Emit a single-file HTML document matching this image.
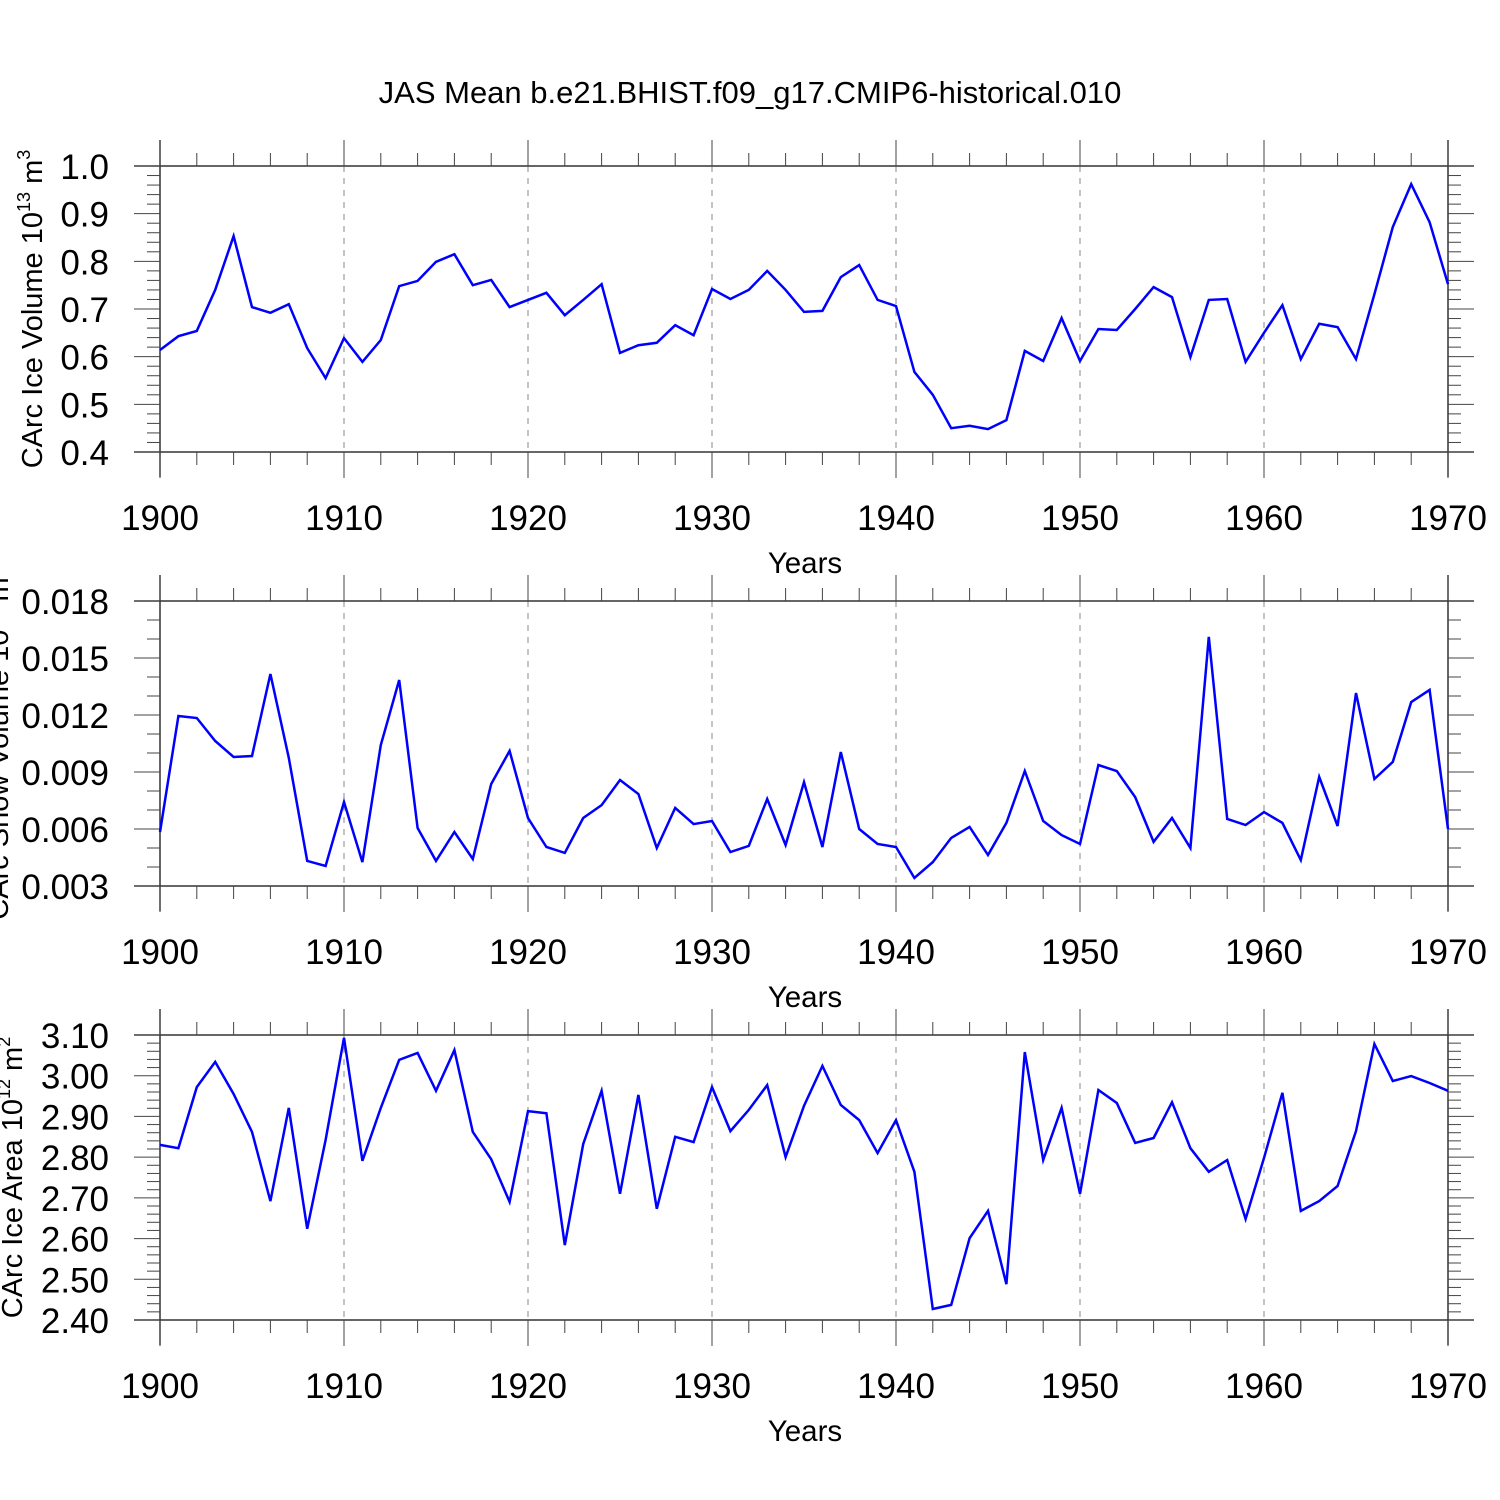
<!DOCTYPE html>
<html><head><meta charset="utf-8"><style>
html,body{margin:0;padding:0;background:#fff;}
svg{display:block;font-family:"Liberation Sans",sans-serif;}
</style></head><body>
<svg id="chart" width="1500" height="1500" viewBox="0 0 1500 1500" xmlns="http://www.w3.org/2000/svg">
<rect width="1500" height="1500" fill="#fff"/>
<text x="750" y="103" font-size="31" text-anchor="middle">JAS Mean b.e21.BHIST.f09_g17.CMIP6-historical.010</text>
</svg>
<script>
const years = [];
for (let y = 1900; y <= 1970; y++) years.push(y);
const iceVolume = [0.614,0.643,0.654,0.740,0.853,0.704,0.692,0.710,0.618,0.555,0.639,0.589,0.635,0.748,0.759,0.799,0.815,0.750,0.761,0.704,0.719,0.734,0.687,0.719,0.752,0.608,0.624,0.629,0.666,0.645,0.742,0.721,0.740,0.780,0.740,0.694,0.696,0.767,0.792,0.719,0.706,0.568,0.520,0.450,0.455,0.448,0.467,0.612,0.591,0.681,0.591,0.658,0.656,0.700,0.746,0.725,0.599,0.719,0.721,0.589,0.650,0.708,0.595,0.669,0.662,0.595,0.731,0.872,0.962,0.882,0.752];
const snowVolume = [0.00584,0.01195,0.01184,0.01063,0.00979,0.00984,0.01416,0.00974,0.00432,0.00405,0.00742,0.00426,0.01042,0.01384,0.00605,0.00432,0.00584,0.00442,0.00837,0.01011,0.00658,0.00505,0.00474,0.00658,0.00726,0.00858,0.00784,0.00500,0.00711,0.00626,0.00642,0.00479,0.00511,0.00758,0.00516,0.00847,0.00505,0.01005,0.00600,0.00521,0.00505,0.00342,0.00426,0.00553,0.00611,0.00463,0.00632,0.00905,0.00642,0.00568,0.00521,0.00937,0.00905,0.00768,0.00532,0.00658,0.00500,0.01611,0.00653,0.00621,0.00689,0.00632,0.00437,0.00874,0.00616,0.01316,0.00863,0.00953,0.01268,0.01332,0.00600];
const iceArea = [2.830,2.822,2.972,3.034,2.955,2.862,2.692,2.921,2.624,2.842,3.093,2.791,2.921,3.039,3.056,2.963,3.063,2.862,2.795,2.690,2.913,2.908,2.584,2.832,2.963,2.710,2.953,2.673,2.850,2.837,2.972,2.864,2.916,2.977,2.800,2.926,3.024,2.928,2.891,2.810,2.891,2.764,2.427,2.437,2.601,2.668,2.488,3.058,2.793,2.921,2.710,2.965,2.933,2.835,2.847,2.935,2.822,2.764,2.793,2.648,2.798,2.958,2.668,2.692,2.729,2.864,3.078,2.987,2.999,2.982,2.963];
const xTickLabels = ["1900","1910","1920","1930","1940","1950","1960","1970"];
const volTicks = ["0.4","0.5","0.6","0.7","0.8","0.9","1.0"];
const snowTicks = ["0.003","0.006","0.009","0.012","0.015","0.018"];
const areaTicks = ["2.40","2.50","2.60","2.70","2.80","2.90","3.00","3.10"];

const NS = "http://www.w3.org/2000/svg";
const svg = document.getElementById("chart");
const X0 = 160, X1 = 1448, XR = 1474, XL = 134;
function xs(yr){ return X0 + (yr - 1900) / 70 * (X1 - X0); }
function mk(tag, attrs, parent){
  const e = document.createElementNS(NS, tag);
  for (const k in attrs) e.setAttribute(k, attrs[k]);
  (parent || svg).appendChild(e);
  return e;
}
function panel(opts){
  const g = mk("g", {});
  
  
  const top = opts.top, bot = opts.bot;
  const ys = v => bot - (v - opts.min) / (opts.max - opts.min) * (bot - top);
  for (let yr = 1910; yr <= 1960; yr += 10) {
    const l = mk("line", {x1: xs(yr), x2: xs(yr), y1: top, y2: bot, stroke: "#888", "stroke-width": 1, "stroke-dasharray": "6,6"}, g);
    
    
  }
  const st = {stroke: "#333", "stroke-width": 1.5};
  mk("line", Object.assign({x1: XL, x2: XR, y1: top, y2: top}, st), g);
  mk("line", Object.assign({x1: XL, x2: XR, y1: bot, y2: bot}, st), g);
  mk("line", Object.assign({x1: X0, x2: X0, y1: top - 26, y2: bot + 25}, st), g);
  mk("line", Object.assign({x1: X1, x2: X1, y1: top - 26, y2: bot + 25}, st), g);
  for (let yr = 1900; yr <= 1970; yr += 2) {
    const major = (yr % 10 === 0);
    const len = major ? 26 : 13;
    mk("line", {x1: xs(yr), x2: xs(yr), y1: top - len, y2: top, stroke: "#444", "stroke-width": 1}, g);
    mk("line", {x1: xs(yr), x2: xs(yr), y1: bot, y2: bot + len, stroke: "#444", "stroke-width": 1}, g);
  }
  xTickLabels.forEach(lbl => {
    const t = mk("text", {x: xs(+lbl), y: bot + 78, "font-size": 35, "text-anchor": "middle"}, g);
    
    
    t.textContent = lbl;
  });
  const xt = mk("text", {x: 805, y: bot + 121, "font-size": 29.5, "text-anchor": "middle"}, g);
  
  
  xt.textContent = "Years";
  const nMinor = Math.round((opts.max - opts.min) / opts.minor);
  for (let i = 0; i <= nMinor; i++) {
    const v = opts.min + i * opts.minor;
    const major = (i % opts.per === 0);
    const len = major ? 26 : 13;
    const y = ys(v);
    mk("line", {x1: X0 - len, x2: X0, y1: y, y2: y, stroke: "#444", "stroke-width": 1}, g);
    mk("line", {x1: X1, x2: X1 + len, y1: y, y2: y, stroke: "#444", "stroke-width": 1}, g);
  }
  opts.ticks.forEach(lbl => {
    const t = mk("text", {x: 109, y: ys(+lbl) + 13, "font-size": 35, "text-anchor": "end"}, g);
    
    
    t.textContent = lbl;
  });
  const cy = (top + bot) / 2;
  const yt = mk("text", {x: opts.titleX, y: cy, "font-size": 29, "text-anchor": "middle", transform: `rotate(-90 ${opts.titleX} ${cy})`}, g);
  
  
  yt.innerHTML = opts.title + ' 10<tspan font-size="18" dy="-12">' + opts.exp + '</tspan><tspan dy="12"> m</tspan><tspan font-size="18" dy="-12">' + opts.unitExp + '</tspan>';
  const pts = opts.data.map((v, i) => xs(years[i]).toFixed(1) + "," + ys(v).toFixed(1)).join(" ");
  const pl = mk("polyline", {points: pts, fill: "none", stroke: "#0000ff", "stroke-width": 2.5, "stroke-linejoin": "miter"}, g);
  
  
}
panel({name: "ice-volume-panel", top: 166, bot: 452, min: 0.4, max: 1.0, minor: 0.02, per: 5, ticks: volTicks, data: iceVolume, title: "CArc Ice Volume", exp: "13", unitExp: "3", titleX: 42});
panel({name: "snow-volume-panel", top: 601, bot: 886, min: 0.003, max: 0.018, minor: 0.001, per: 3, ticks: snowTicks, data: snowVolume, title: "CArc Snow Volume", exp: "13", unitExp: "3", titleX: 8});
panel({name: "ice-area-panel", top: 1035, bot: 1320, min: 2.40, max: 3.10, minor: 0.02, per: 5, ticks: areaTicks, data: iceArea, title: "CArc Ice Area", exp: "12", unitExp: "2", titleX: 22});
</script>
</body></html>
